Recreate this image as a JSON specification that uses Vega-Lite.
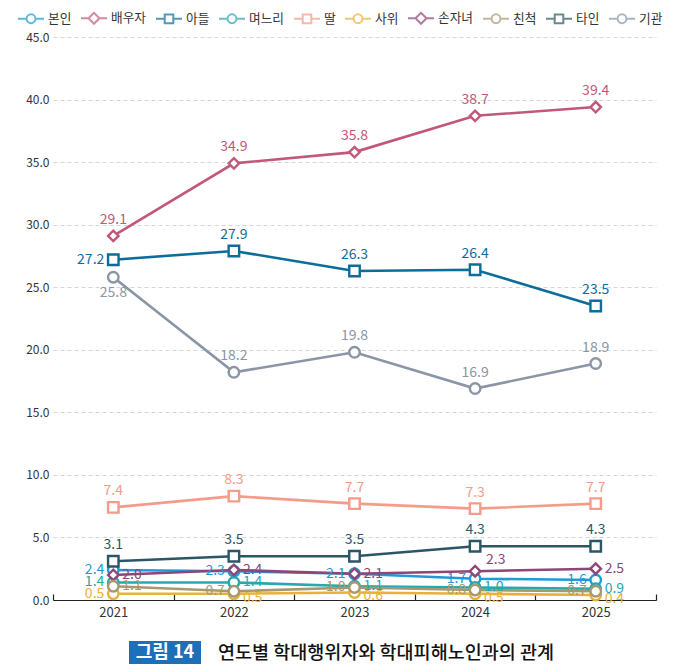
{
  "$schema": "https://vega.github.io/schema/vega-lite/v6.json",
  "padding": {"left": 17, "top": 4, "right": 0, "bottom": 0},
  "background": "white",
  "config": {
    "font": "Noto Sans CJK KR",
    "view": {"stroke": null},
    "text": {"font": "Noto Sans CJK KR"}
  },
  "datasets": {
    "rows": [
      {"who": "본인", "year": "2021", "v": 2.4}, {"who": "본인", "year": "2022", "v": 2.3}, {"who": "본인", "year": "2023", "v": 2.1}, {"who": "본인", "year": "2024", "v": 1.7}, {"who": "본인", "year": "2025", "v": 1.6},
      {"who": "배우자", "year": "2021", "v": 29.1}, {"who": "배우자", "year": "2022", "v": 34.9}, {"who": "배우자", "year": "2023", "v": 35.8}, {"who": "배우자", "year": "2024", "v": 38.7}, {"who": "배우자", "year": "2025", "v": 39.4},
      {"who": "아들", "year": "2021", "v": 27.2}, {"who": "아들", "year": "2022", "v": 27.9}, {"who": "아들", "year": "2023", "v": 26.3}, {"who": "아들", "year": "2024", "v": 26.4}, {"who": "아들", "year": "2025", "v": 23.5},
      {"who": "며느리", "year": "2021", "v": 1.4}, {"who": "며느리", "year": "2022", "v": 1.4}, {"who": "며느리", "year": "2023", "v": 1.1}, {"who": "며느리", "year": "2024", "v": 1.0}, {"who": "며느리", "year": "2025", "v": 0.9},
      {"who": "딸", "year": "2021", "v": 7.4}, {"who": "딸", "year": "2022", "v": 8.3}, {"who": "딸", "year": "2023", "v": 7.7}, {"who": "딸", "year": "2024", "v": 7.3}, {"who": "딸", "year": "2025", "v": 7.7},
      {"who": "사위", "year": "2021", "v": 0.5}, {"who": "사위", "year": "2022", "v": 0.5}, {"who": "사위", "year": "2023", "v": 0.6}, {"who": "사위", "year": "2024", "v": 0.5}, {"who": "사위", "year": "2025", "v": 0.4},
      {"who": "손자녀", "year": "2021", "v": 2.0}, {"who": "손자녀", "year": "2022", "v": 2.4}, {"who": "손자녀", "year": "2023", "v": 2.1}, {"who": "손자녀", "year": "2024", "v": 2.3}, {"who": "손자녀", "year": "2025", "v": 2.5},
      {"who": "친척", "year": "2021", "v": 1.1}, {"who": "친척", "year": "2022", "v": 0.7}, {"who": "친척", "year": "2023", "v": 1.0}, {"who": "친척", "year": "2024", "v": 0.8}, {"who": "친척", "year": "2025", "v": 0.7},
      {"who": "타인", "year": "2021", "v": 3.1}, {"who": "타인", "year": "2022", "v": 3.5}, {"who": "타인", "year": "2023", "v": 3.5}, {"who": "타인", "year": "2024", "v": 4.3}, {"who": "타인", "year": "2025", "v": 4.3},
      {"who": "기관", "year": "2021", "v": 25.8}, {"who": "기관", "year": "2022", "v": 18.2}, {"who": "기관", "year": "2023", "v": 19.8}, {"who": "기관", "year": "2024", "v": 16.9}, {"who": "기관", "year": "2025", "v": 18.9}
    ]
  },
  "vconcat": [
    {
      "width": 603,
      "height": 563,
      "data": {"name": "rows"},
      "encoding": {
        "x": {
          "field": "year", "type": "ordinal", "title": null,
          "scale": {"paddingInner": 0, "paddingOuter": 0},
          "axis": {
            "labelAngle": 0, "labelFontSize": 13, "labelColor": "#333333", "labelPadding": 12,
            "domainColor": "#222222", "domainWidth": 1.2, "tickColor": "#222222", "tickWidth": 1.2,
            "tickSize": -6, "tickBand": "extent", "grid": false
          }
        },
        "y": {
          "field": "v", "type": "quantitative", "title": null,
          "scale": {"domain": [0, 45], "nice": false},
          "axis": {
            "values": [0, 5, 10, 15, 20, 25, 30, 35, 40, 45], "format": ".1f",
            "labelFontSize": 12, "labelColor": "#333333", "labelPadding": 4,
            "domain": false, "ticks": false,
            "gridColor": "#d5d5d5", "gridDash": [4, 3], "gridWidth": 1
          }
        }
      },
      "resolve": {"scale": {"stroke": "independent", "shape": "independent", "fill": "independent"}},
      "layer": [
        {
          "mark": {"type": "line", "strokeWidth": 2.6},
          "encoding": {
            "stroke": {
              "field": "who", "type": "nominal", "legend": null,
              "scale": {
                "domain": ["본인", "배우자", "아들", "며느리", "딸", "사위", "손자녀", "친척", "타인", "기관"],
                "range": ["#1e9ad6", "#c2577a", "#0d6d9a", "#27a8ae", "#f49b8a", "#e8b23a", "#8d4678", "#a7996f", "#2b5668", "#8a96a5"]
              }
            }
          }
        },
        {
          "mark": {"type": "point", "filled": false, "fill": "white", "fillOpacity": 1, "opacity": 1, "strokeWidth": 2.4, "size": 110},
          "encoding": {
            "stroke": {
              "field": "who", "type": "nominal", "legend": null,
              "scale": {
                "domain": ["본인", "배우자", "아들", "며느리", "딸", "사위", "손자녀", "친척", "타인", "기관"],
                "range": ["#1e9ad6", "#c2577a", "#0d6d9a", "#27a8ae", "#f49b8a", "#e8b23a", "#8d4678", "#a7996f", "#2b5668", "#8a96a5"]
              }
            },
            "shape": {
              "field": "who", "type": "nominal", "legend": null,
              "scale": {
                "domain": ["본인", "배우자", "아들", "며느리", "딸", "사위", "손자녀", "친척", "타인", "기관"],
                "range": ["circle", "diamond", "square", "circle", "square", "circle", "diamond", "circle", "square", "circle"]
              }
            }
          }
        },
        {
          "transform": [{"filter": "false"}],
          "mark": {"type": "point", "filled": false, "fill": "white", "strokeWidth": 2},
          "encoding": {
            "stroke": {
              "field": "who", "type": "nominal",
              "scale": {
                "domain": ["본인", "배우자", "아들", "며느리", "딸", "사위", "손자녀", "친척", "타인", "기관"],
                "range": ["#1e9ad6", "#c2577a", "#0d6d9a", "#27a8ae", "#f49b8a", "#e8b23a", "#8d4678", "#a7996f", "#2b5668", "#8a96a5"]
              },
              "legend": {
                "title": null, "orient": "none", "legendX": -36, "legendY": -33,
                "direction": "horizontal", "columns": 10, "columnPadding": 5,
                "labelFontSize": 12.7, "labelColor": "#333333", "labelOffset": 3,
                "symbolSize": 676, "symbolStrokeWidth": 2, "symbolFillColor": "white", "symbolOpacity": 1
              }
            },
            "shape": {
              "field": "who", "type": "nominal",
              "scale": {
                "domain": ["본인", "배우자", "아들", "며느리", "딸", "사위", "손자녀", "친척", "타인", "기관"],
                "range": [
                  "M-1,0H-0.34M0.34,0H1M-0.34,0A0.34,0.34 0 1,0 0.34,0A0.34,0.34 0 1,0 -0.34,0Z",
                  "M-1,0H-0.42M0.42,0H1M-0.42,0L0,-0.42L0.42,0L0,0.42Z",
                  "M-1,0H-0.33M0.33,0H1M-0.33,-0.33H0.33V0.33H-0.33Z",
                  "M-1,0H-0.34M0.34,0H1M-0.34,0A0.34,0.34 0 1,0 0.34,0A0.34,0.34 0 1,0 -0.34,0Z",
                  "M-1,0H-0.33M0.33,0H1M-0.33,-0.33H0.33V0.33H-0.33Z",
                  "M-1,0H-0.34M0.34,0H1M-0.34,0A0.34,0.34 0 1,0 0.34,0A0.34,0.34 0 1,0 -0.34,0Z",
                  "M-1,0H-0.42M0.42,0H1M-0.42,0L0,-0.42L0.42,0L0,0.42Z",
                  "M-1,0H-0.34M0.34,0H1M-0.34,0A0.34,0.34 0 1,0 0.34,0A0.34,0.34 0 1,0 -0.34,0Z",
                  "M-1,0H-0.33M0.33,0H1M-0.33,-0.33H0.33V0.33H-0.33Z",
                  "M-1,0H-0.34M0.34,0H1M-0.34,0A0.34,0.34 0 1,0 0.34,0A0.34,0.34 0 1,0 -0.34,0Z"
                ]
              }
            }
          }
        },
        {
          "transform": [{"filter": "datum.who === '배우자' || datum.who === '딸' || datum.who === '타인' || ((datum.who === '아들' || datum.who === '기관') && datum.year !== '2021')"}],
          "mark": {"type": "text", "fontSize": 14, "dy": -16, "align": "center", "baseline": "middle"},
          "encoding": {
            "text": {"field": "v", "type": "quantitative", "format": ".1f"},
            "fill": {
              "field": "who", "type": "nominal", "legend": null,
              "scale": {
                "domain": ["본인", "배우자", "아들", "며느리", "딸", "사위", "손자녀", "친척", "타인", "기관"],
                "range": ["#1e9ad6", "#c2577a", "#0d6d9a", "#27a8ae", "#f49b8a", "#e8b23a", "#8d4678", "#a7996f", "#2b5668", "#8a96a5"]
              }
            }
          }
        },
        {
          "transform": [{"filter": "datum.who === '기관' && datum.year === '2021'"}],
          "mark": {"type": "text", "fontSize": 14, "dy": 16, "align": "center", "baseline": "middle"},
          "encoding": {
            "text": {"field": "v", "type": "quantitative", "format": ".1f"},
            "fill": {
              "field": "who", "type": "nominal", "legend": null,
              "scale": {
                "domain": ["본인", "배우자", "아들", "며느리", "딸", "사위", "손자녀", "친척", "타인", "기관"],
                "range": ["#1e9ad6", "#c2577a", "#0d6d9a", "#27a8ae", "#f49b8a", "#e8b23a", "#8d4678", "#a7996f", "#2b5668", "#8a96a5"]
              }
            }
          }
        },
        {
          "transform": [{"filter": "datum.who === '본인' || (datum.year === '2021' && (datum.who === '아들' || datum.who === '며느리' || datum.who === '사위')) || (datum.who === '친척' && datum.year !== '2021')"}],
          "mark": {"type": "text", "fontSize": 14, "dx": -9, "align": "right", "baseline": "middle"},
          "encoding": {
            "text": {"field": "v", "type": "quantitative", "format": ".1f"},
            "fill": {
              "field": "who", "type": "nominal", "legend": null,
              "scale": {
                "domain": ["본인", "배우자", "아들", "며느리", "딸", "사위", "손자녀", "친척", "타인", "기관"],
                "range": ["#1e9ad6", "#c2577a", "#0d6d9a", "#27a8ae", "#f49b8a", "#e8b23a", "#8d4678", "#a7996f", "#2b5668", "#8a96a5"]
              }
            }
          }
        },
        {
          "transform": [{"filter": "(datum.who === '손자녀' && datum.year !== '2024') || (datum.who === '며느리' && datum.year !== '2021') || (datum.who === '친척' && datum.year === '2021')"}],
          "mark": {"type": "text", "fontSize": 14, "dx": 9, "align": "left", "baseline": "middle"},
          "encoding": {
            "text": {"field": "v", "type": "quantitative", "format": ".1f"},
            "fill": {
              "field": "who", "type": "nominal", "legend": null,
              "scale": {
                "domain": ["본인", "배우자", "아들", "며느리", "딸", "사위", "손자녀", "친척", "타인", "기관"],
                "range": ["#1e9ad6", "#c2577a", "#0d6d9a", "#27a8ae", "#f49b8a", "#e8b23a", "#8d4678", "#a7996f", "#2b5668", "#8a96a5"]
              }
            }
          }
        },
        {
          "transform": [{"filter": "datum.who === '사위' && datum.year !== '2021'"}],
          "mark": {"type": "text", "fontSize": 14, "dx": 9, "dy": 4, "align": "left", "baseline": "middle"},
          "encoding": {
            "text": {"field": "v", "type": "quantitative", "format": ".1f"},
            "fill": {
              "field": "who", "type": "nominal", "legend": null,
              "scale": {
                "domain": ["본인", "배우자", "아들", "며느리", "딸", "사위", "손자녀", "친척", "타인", "기관"],
                "range": ["#1e9ad6", "#c2577a", "#0d6d9a", "#27a8ae", "#f49b8a", "#e8b23a", "#8d4678", "#a7996f", "#2b5668", "#8a96a5"]
              }
            }
          }
        },
        {
          "transform": [{"filter": "datum.who === '손자녀' && datum.year === '2024'"}],
          "mark": {"type": "text", "fontSize": 14, "dx": 11, "dy": -11, "align": "left", "baseline": "middle"},
          "encoding": {
            "text": {"field": "v", "type": "quantitative", "format": ".1f"},
            "fill": {
              "field": "who", "type": "nominal", "legend": null,
              "scale": {
                "domain": ["본인", "배우자", "아들", "며느리", "딸", "사위", "손자녀", "친척", "타인", "기관"],
                "range": ["#1e9ad6", "#c2577a", "#0d6d9a", "#27a8ae", "#f49b8a", "#e8b23a", "#8d4678", "#a7996f", "#2b5668", "#8a96a5"]
              }
            }
          }
        }
      ]
    },
    {
      "spacing": 10,
      "hconcat": [
        {
          "width": 66,
          "height": 23,
          "data": {"values": [{"t": ""}]},
          "mark": {"type": "text"},
          "encoding": {"text": {"field": "t"}}
        },
        {
          "width": 72,
          "height": 23,
          "view": {"fill": "#1d6fb8", "stroke": null},
          "data": {"values": [{"t": "그림 14"}]},
          "mark": {"type": "text", "fontSize": 18, "fontWeight": "bold", "color": "white", "align": "center", "baseline": "middle"},
          "encoding": {"text": {"field": "t"}}
        },
        {
          "width": 340,
          "height": 23,
          "data": {"values": [{"t": "연도별  학대행위자와  학대피해노인과의  관계"}]},
          "mark": {"type": "text", "fontSize": 18.5, "fontWeight": 500, "color": "#111111", "align": "center", "baseline": "middle"},
          "encoding": {"text": {"field": "t"}}
        }
      ]
    }
  ],
  "spacing": 22,
  "center": false
}
